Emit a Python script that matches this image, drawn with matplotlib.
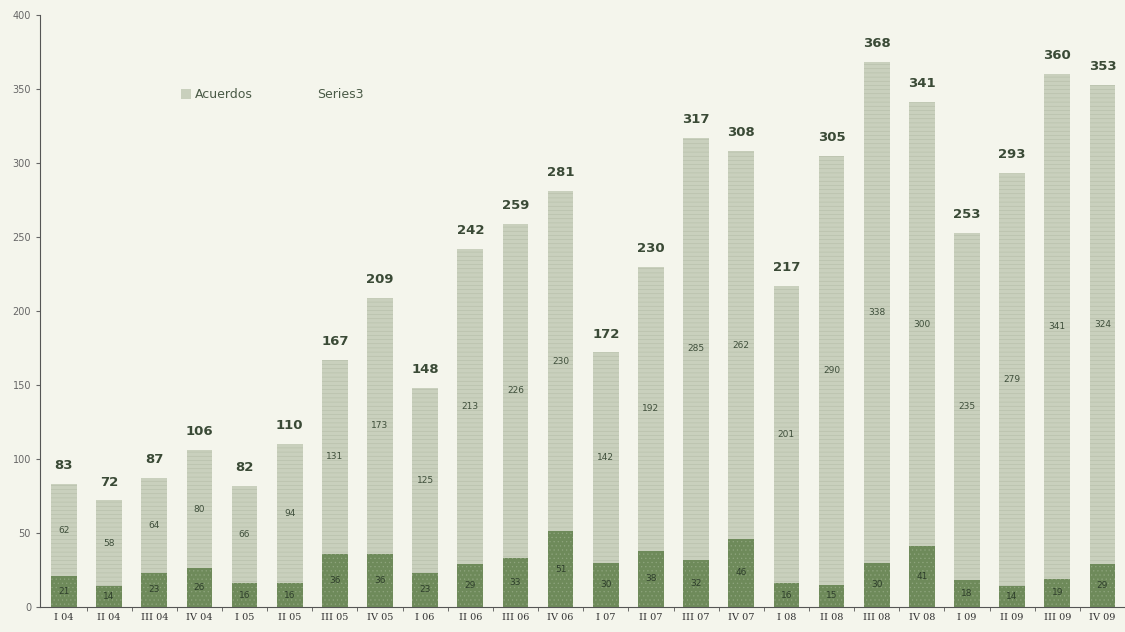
import numpy as np
import matplotlib.pyplot as plt
from matplotlib.patches import Patch

quarters = ['I 04', 'II 04', 'III 04', 'IV 04', 'I 05', 'II 05', 'III 05', 'IV 05',
            'I 06', 'II 06', 'III 06', 'IV 06', 'I 07', 'II 07', 'III 07', 'IV 07',
            'I 08', 'II 08', 'III 08', 'IV 08', 'I 09', 'II 09', 'III 09', 'IV 09']
series3 = [21, 14, 23, 26, 16, 16, 36, 36, 23, 29, 33, 51,
           30, 38, 32, 46, 16, 15, 30, 41, 18, 14, 19, 29]
acuerdos = [62, 58, 64, 80, 66, 94, 131, 173, 125, 213, 226, 230,
            142, 192, 285, 262, 201, 290, 338, 300, 235, 279, 341, 324]
totals = [83, 72, 87, 106, 82, 110, 167, 209, 148, 242, 259, 281,
          172, 230, 317, 308, 217, 305, 368, 341, 253, 293, 360, 353]

bg = '#f4f5ec'
light = '#c9d0bd'
dark = '#6e8a5a'
txt = '#3a4a36'

plt.rcParams['hatch.linewidth'] = 0.4
fig = plt.figure(figsize=(11.25, 6.32), dpi=100, facecolor=bg)
ax = fig.add_axes([0.0356, 0.0396, 0.9644, 0.9367], facecolor=bg)

x = np.arange(len(quarters))
w = 0.57
b1 = ax.bar(x, series3, w, color=dark, edgecolor='#8fa57e', hatch='....', linewidth=0)
b2 = ax.bar(x, acuerdos, w, bottom=series3, color=light, edgecolor='#b5bda8',
            hatch='----', linewidth=0)

for i in range(len(x)):
    ax.text(x[i], series3[i] / 2, str(series3[i]), ha='center', va='center',
            fontsize=6.5, color='#2f3f2c')
    ax.text(x[i], series3[i] + acuerdos[i] / 2, str(acuerdos[i]), ha='center',
            va='center', fontsize=6.5, color='#3f4f3b')
    ax.text(x[i], totals[i] + 8, str(totals[i]), ha='center', va='bottom',
            fontsize=9.5, fontweight='bold', color=txt)

ax.set_xlim(-0.53, 23.4)
ax.set_ylim(0, 400)
ax.set_yticks(range(0, 401, 50))
ax.tick_params(axis='y', labelsize=7, colors='#666666', length=3)
ax.set_xticks(x)
ax.set_xticklabels(quarters, fontsize=7, color='#333333', family='DejaVu Serif')
ax.tick_params(axis='x', length=0, pad=4)
ax.set_xticks(x + 0.5, minor=True)
ax.tick_params(axis='x', which='minor', length=3, color='#555555')

for s in ['top', 'right']:
    ax.spines[s].set_visible(False)
ax.spines['left'].set_color('#555555')
ax.spines['bottom'].set_color('#555555')

handles = [Patch(facecolor=light, edgecolor='none'), Patch(facecolor='none', edgecolor='none')]
ax.legend(handles, ['Acuerdos', 'Series3'], ncol=2, frameon=False,
          loc='center left', bbox_to_anchor=(0.12, 0.865), fontsize=9,
          handlelength=0.8, handleheight=0.8, handletextpad=0.3, columnspacing=4,
          labelcolor='#4a5a46')

fig.savefig('out.png', dpi=100, facecolor=bg)
